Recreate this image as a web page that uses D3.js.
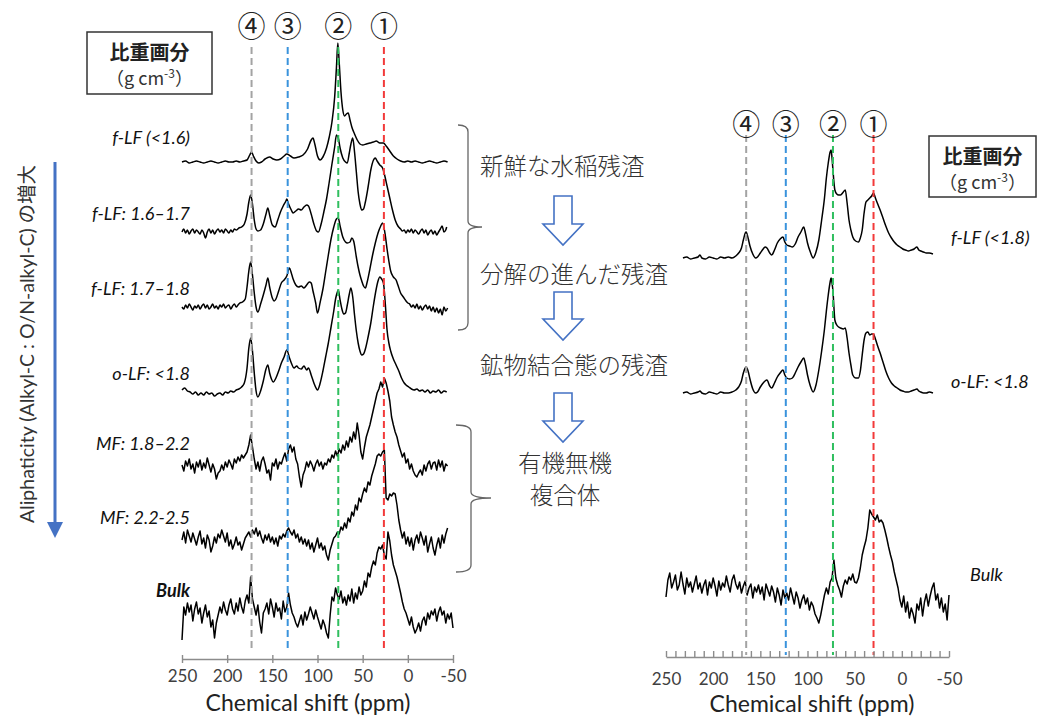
<!DOCTYPE html>
<html><head><meta charset="utf-8">
<script src="https://cdn.jsdelivr.net/npm/d3@7"></script>
<style>
body{margin:0;background:#fff;}
svg{display:block;}
text{font-family:Lato,'Noto Sans CJK JP',sans-serif;}
.jp{font-family:'Noto Sans CJK JP',sans-serif;}
</style></head><body>
<svg id="chart" width="1056" height="718"></svg>
<script>
// ---------- data ----------
// tick labels of the chemical-shift axes (ppm)
const tickValuesPpm = [250, 200, 150, 100, 50, 0, -50];
const tickLabels = ['250', '200', '150', '100', '50', '0', '-50'];

// assigned carbon regions (ppm): ① alkyl-C, ② O-alkyl-C, ③ aromatic-C, ④ carbonyl-C
const peakMarks = ['①', '②', '③', '④'];
const peakPpmLeft = [26.5, 77, 133, 173];
const peakPpmRight = [30, 73, 123, 165];

// left panel sample names (density fractions, g cm-3)
const leftSamples = ['f-LF (<1.6)', 'f-LF: 1.6–1.7', 'f-LF: 1.7–1.8', 'o-LF: <1.8', 'MF: 1.8–2.2', 'MF: 2.2-2.5', 'Bulk'];
const rightSamples = ['f-LF (<1.8)', 'o-LF: <1.8', 'Bulk'];

// 13C CPMAS spectra, [ppm, relative intensity]
const fLF16 = [[250,0],[246,1],[242,-1],[238,0],[234,1],[230,0],[226,-1],[222,0],[218,1],[214,0],[210,-1],[206,0],[202,1],[198,0],[194,0],[190,1],[186,0],[182,1],[178,2],[175,7],[173,10],[171,6],[168,1],[165,-1],[162,0],[158,3],[153,5],[149,3],[145,2],[141,3],[137,6],[134,8],[130,6],[126,4],[121,5],[116,7],[111,13],[107,22],[105,24],[103,18],[100,6],[97,2],[94,5],[90,14],[87,25],[84,40],[81,65],[79,95],[77.5,119],[76,100],[74,70],[72,52],[70,46],[68,48],[66,49],[64,42],[62,35],[59,28],[56,22],[53,18],[50,17],[46,18],[42,19],[38,20],[35,21],[31,19],[27,19],[24,16],[20,11],[16,6],[12,3],[8,1],[4,0],[0,1],[-4,0],[-8,1],[-12,0],[-16,-1],[-20,0],[-24,1],[-28,0],[-32,-1],[-36,0],[-40,1],[-44,0]];

const fLF1617 = [[250,0],[248,3],[246,-1],[244,2],[242,-2],[240,1],[238,3],[236,-1],[234,2],[232,0],[230,-2],[228,2],[226,-1],[224,-6],[222,0],[220,3],[218,-1],[216,2],[214,-2],[212,1],[210,3],[208,0],[206,2],[204,-1],[202,3],[200,1],[198,-1],[196,2],[194,0],[192,3],[190,2],[187,4],[184,5],[181,8],[178,18],[176,30],[174,37],[172,28],[170,12],[168,3],[166,1],[163,2],[160,8],[157,18],[155,24],[153,17],[150,7],[147,5],[144,12],[141,20],[138,26],[135,31],[134,33],[132,28],[129,22],[127,19],[124,21],[121,23],[118,22],[115,25],[112,27],[110,26],[107,18],[104,8],[101,1],[99,0],[96,8],[93,20],[90,33],[87,50],[84,68],[81,85],[79,97],[77,94],[75,84],[72,74],[69,70],[67,69],[65,78],[63,88],[61,94],[59,80],[57,60],[55,40],[53,28],[51,22],[49,23],[47,30],[44,45],[41,62],[38,72],[36,74],[34,71],[31,67],[28,64],[26,58],[23,46],[20,34],[17,22],[14,12],[11,6],[8,3],[6,1],[4,2],[2,-1],[0,2],[-2,0],[-4,3],[-6,-1],[-8,2],[-10,0],[-12,-2],[-14,1],[-16,3],[-18,-1],[-20,2],[-22,-3],[-24,0],[-26,2],[-28,-2],[-30,1],[-32,-3],[-34,0],[-36,3],[-38,6],[-40,0],[-42,2],[-43,5]];

const fLF1718 = [[250,0],[248,-2],[246,2],[244,-1],[242,3],[240,0],[238,-3],[236,1],[234,-1],[232,2],[230,-2],[228,1],[226,3],[224,-1],[222,2],[220,-2],[218,0],[216,3],[214,-1],[212,1],[210,-2],[208,2],[206,0],[204,3],[202,-1],[200,1],[198,2],[196,-2],[194,1],[192,3],[190,0],[188,2],[186,4],[183,5],[180,8],[178,20],[176,36],[174,45],[172,32],[170,14],[168,0],[166,-5],[163,3],[160,12],[157,22],[155,29],[153,20],[150,9],[148,6],[146,8],[143,16],[140,24],[137,27],[134,31],[131,39],[129,34],[127,28],[124,22],[121,20],[118,21],[115,19],[112,22],[109,25],[107,24],[105,16],[102,4],[100,-6],[97,5],[94,18],[91,35],[88,52],[85,68],[82,80],[79,88],[77,89],[75,81],[72,70],[69,65],[67,64],[64,65],[62,69],[60,66],[57,50],[55,40],[53,32],[51,26],[49,21],[47,19],[45,25],[42,38],[39,52],[36,64],[33,74],[30,81],[28,84],[25,72],[23,58],[21,46],[19,36],[16,30],[13,27],[11,22],[8,14],[5,10],[2,6],[0,4],[-2,3],[-4,0],[-6,2],[-8,-1],[-10,3],[-12,-2],[-14,1],[-16,-3],[-18,0],[-20,2],[-22,-2],[-24,1],[-26,-4],[-28,0],[-30,-5],[-32,-1],[-34,-6],[-36,-2],[-38,-8],[-40,0],[-42,-4],[-44,-1]];

const oLF18 = [[250,3],[247,5],[244,2],[241,1],[238,-1],[235,1],[232,-2],[229,0],[226,-2],[223,1],[220,-1],[217,0],[214,-3],[211,-1],[208,0],[205,-2],[202,1],[199,0],[196,2],[193,1],[190,3],[187,4],[184,6],[181,10],[178,25],[176,45],[174,55],[172,42],[170,20],[168,2],[166,-4],[163,2],[160,12],[157,24],[155,28],[153,20],[151,14],[149,11],[146,15],[143,22],[140,30],[137,36],[134,43],[131,35],[129,30],[126,25],[123,27],[121,25],[118,24],[115,27],[112,23],[110,25],[107,18],[104,10],[101,4],[100,3],[97,10],[94,22],[91,36],[88,50],[85,66],[82,82],[80,94],[78,101],[77,103],[75,93],[73,84],[71,79],[69,80],[67,88],[65,98],[63,105],[61,96],[59,78],[57,62],[55,50],[53,42],[51,38],[49,39],[47,44],[44,56],[41,70],[38,88],[35,104],[33,112],[31,116],[29,114],[27,110],[25,90],[23,63],[21,50],[19,42],[16,34],[14,30],[12,26],[10,22],[7,15],[4,10],[2,8],[-1,6],[-4,4],[-7,3],[-10,4],[-13,2],[-16,3],[-19,1],[-22,3],[-25,0],[-28,2],[-31,1],[-34,3],[-37,0],[-40,2],[-43,1]];

// noisy spectra sampled every 2 ppm from 250 ppm downwards
const ppmStep = 2;
const mf1822 = [2,-4,6,1,8,-2,3,-6,5,0, 7,-3,4,-1,9,2,-5,3,-2,-12, -6,-4,2,-3,5,0,7,3,-2,8, 4,10,6,12,9,12,15,22,32,20, 8,-2,5,-4,6,10,3,-6,-3,-13, 4,1,8,-2,5,3,9,14,6,18, 22,15,20,8,3,-10,-20,-8,-3,5, 0,6,2,-4,3,7,1,5,-2,4, 2,8,5,12,9,16,11,18,14,22, 17,26,20,30,25,35,28,44,32,15, 8,20,30,36,42,50,58,66,74,78, 85,80,89,84,76,66,50,42,35,30, 22,16,10,14,4,8,-2,3,-4,-8, -10,-6,-3,-8,2,-4,3,6,-2,4, 5,-3,7,0,6,-4,3,1];
const mf2225 = [0,8,-3,10,4,-2,7,1,-5,3, 9,-4,2,-8,5,0,-12,-6,3,-3, 6,2,10,4,-2,7,-6,0,-9,-4, 3,-5,-2,-10,-4,2,5,8,3,10, 6,12,4,9,2,-3,5,0,6,-2, 3,-4,2,-6,4,1,6,3,9,12, 8,5,10,2,6,-2,3,-4,1,-6, 0,-9,-3,-12,-5,2,-8,-3,-10,-6, -15,-20,-10,-4,2,4,8,6,13,10, 17,12,22,18,28,24,35,30,42,38, 46,52,48,58,55,64,70,76,84,86, 84,88,90,42,40,46,44,47,46,35, 20,10,2,8,-4,3,-6,2,-10,0, 5,-3,8,2,-5,4,-12,-4,3,-8, -15,-5,2,-8,5,-3,6,12];
const bulkL = [-23,10,2,14,5,12,-4,8,15,3, 9,-6,4,12,0,6,-10,-3,-21,-6, 2,10,4,15,7,2,12,18,8,3, 14,6,19,10,4,16,22,14,40,18, 10,2,12,-5,-16,4,8,14,3,18, 10,0,14,6,9,-2,16,5,10,24, 12,4,0,-6,-10,-4,2,-8,5,-3, 3,10,4,-2,7,0,-6,-12,-3,-8, -16,-21,2,20,16,29,22,18,26,14, 20,12,22,16,28,14,24,18,30,22, 26,36,30,44,40,50,56,52,64,70, 68,72,62,58,85,76,62,52,46,40, 32,24,15,8,4,-2,-8,0,-10,-16, -12,-6,-14,-4,0,-8,4,-2,6,2, 8,-4,5,10,2,6,-6,3,-2,4, -11];

const fLF18R = [[232,0],[228,1],[224,-1],[220,0],[216,1],[214,3],[212,0],[208,-1],[204,1],[200,0],[196,-1],[192,1],[188,0],[184,1],[180,0],[176,2],[173,5],[170,10],[168,18],[166,25],[165,26],[163,20],[161,12],[158,4],[155,0],[153,1],[150,5],[147,9],[145,11],[143,10],[140,5],[138,3],[135,8],[132,15],[129,19],[126,21],[124,16],[122,13],[119,12],[116,11],[113,14],[110,21],[107,26],[104,31],[102,24],[100,15],[97,6],[94,0],[91,6],[88,18],[85,38],[82,60],[80,80],[78,95],[76,106],[75,108],[74,100],[73,88],[72,76],[71,68],[69,64],[67,63],[65,63],[62,66],[60,68],[58,55],[56,38],[54,28],[52,21],[49,17],[46,16],[44,20],[42,28],[40,45],[38,56],[36,58],[34,60],[32,62],[30,65],[28,60],[26,55],[23,48],[20,40],[17,32],[14,25],[11,20],[8,16],[5,13],[2,11],[-1,9],[-4,8],[-7,7],[-10,8],[-13,9],[-16,11],[-18,8],[-20,7],[-23,6],[-26,5],[-29,5],[-33,4]];
const oLF18R = [[232,2],[228,3],[224,1],[220,2],[216,3],[214,4],[212,2],[208,1],[204,3],[200,2],[196,1],[192,3],[188,2],[184,2],[180,3],[176,5],[173,8],[170,14],[168,22],[166,27],[165,28],[163,24],[161,16],[158,6],[155,2],[153,3],[150,8],[147,12],[145,14],[143,15],[140,9],[138,7],[135,12],[132,18],[129,22],[126,25],[124,20],[122,17],[119,16],[116,17],[113,22],[110,28],[107,33],[104,37],[102,30],[100,20],[97,9],[94,3],[91,10],[88,25],[85,44],[82,66],[80,84],[78,100],[76,113],[75,117],[74,112],[73,104],[72,88],[71,75],[69,70],[67,68],[65,67],[62,66],[60,67],[58,57],[56,42],[54,30],[52,20],[49,17],[46,17],[44,24],[42,40],[40,55],[38,62],[36,63],[34,60],[32,61],[30,61],[28,56],[26,50],[23,42],[20,33],[17,24],[14,17],[11,12],[8,9],[5,7],[2,5],[-1,4],[-4,3],[-7,3],[-10,4],[-13,5],[-16,6],[-18,4],[-20,3],[-23,2],[-26,2],[-29,3],[-33,2]];
const bulkR = [-7,10,17,2,8,15,0,5,18,6, -4,12,3,8,-2,6,14,1,7,-3, 5,10,-5,8,2,12,4,-6,9,0, 7,3,14,5,-2,10,15,6,1,8, -3,4,9,-5,2,6,-8,3,-2,5, -4,3,-10,6,0,-6,4,-2,-12,2, -5,-15,0,-8,-3,-10,2,-6,-14,-2, -8,-18,-10,-5,-14,-8,-20,-12,-16,-24, -28,-33,-25,-15,-5,2,-4,8,12,30, 12,5,0,-7,4,10,6,13,10,16, 8,7,12,22,35,43,50,62,80,76, 73,70,75,68,70,67,60,52,43,35, 28,18,10,2,-10,-17,-6,-22,-12,-28, -18,-24,-33,-14,-20,-8,-26,-12,-4,-16, -6,2,7,-10,-4,-18,-8,-22,-14,-30, -5];

// ---------- drawing ----------
const sampled = vals => vals.map((v, i) => [250 - i * ppmStep, v]);
const svg = d3.select('#chart');
const markColors = ['#f23a3a', '#2fbf5f', '#3a93dc', '#a3a3a3'];

const xL = d3.scaleLinear().domain([250, -50]).range([182, 453]);
const xR = d3.scaleLinear().domain([250, -50]).range([666, 949]);
const yI = d3.scaleLinear().domain([0, 100]).range([0, -100]);

const leftSpectra = [
  {d: fLF16, smooth: true}, {d: fLF1617, smooth: true}, {d: fLF1718, smooth: true},
  {d: oLF18, smooth: true}, {d: sampled(mf1822)}, {d: sampled(mf2225)}, {d: sampled(bulkL)}
];
const leftBase = [162, 232, 307, 393, 467, 540, 617];
const leftLabelY = [144, 220, 295, 380, 450, 524, 597];

const rightSpectra = [{d: fLF18R, smooth: true}, {d: oLF18R, smooth: true}, {d: sampled(bulkR)}];
const rightBase = [258, 395, 590];
const rightLabelY = [244, 388, 581];

function drawSpectrum(g, s, x, base) {
  const line = d3.line().x(d => x(d[0])).y(d => base + yI(d[1]))
    .curve(s.smooth ? d3.curveMonotoneX : d3.curveLinear);
  g.append('path').attr('d', line(s.d)).attr('fill', 'none')
    .attr('stroke', '#000').attr('stroke-width', 1.5).attr('stroke-linejoin', 'round');
}

const gL = svg.append('g');
leftSpectra.forEach((s, i) => drawSpectrum(gL, s, xL, leftBase[i]));
const gR = svg.append('g');
rightSpectra.forEach((s, i) => drawSpectrum(gR, s, xR, rightBase[i]));

// dashed region markers with circled numbers
function drawMarks(x, ppms, y0, y1, yNum) {
  ppms.forEach((p, i) => {
    svg.append('line').attr('x1', x(p)).attr('x2', x(p)).attr('y1', y0).attr('y2', y1)
      .attr('stroke', markColors[i]).attr('stroke-width', 2).attr('stroke-dasharray', '7,4');
    svg.append('text').attr('class', 'jp').attr('x', x(p)).attr('y', yNum)
      .attr('text-anchor', 'middle').attr('dominant-baseline', 'central')
      .attr('font-size', 28).attr('fill', '#222').text(peakMarks[i]);
  });
}
drawMarks(xL, peakPpmLeft, 47, 649, 25);
drawMarks(xR, peakPpmRight, 135, 655, 123);

// axes
const axL = svg.append('g').attr('transform', 'translate(0,659)')
  .call(d3.axisBottom(xL).tickValues(tickValuesPpm).tickFormat((d, i) => tickLabels[i])
    .tickSizeInner(4).tickSizeOuter(0).tickPadding(7));
axL.selectAll('.tick line').attr('y1', -4);
const axR = svg.append('g').attr('transform', 'translate(0,657)')
  .call(d3.axisBottom(xR).tickValues(d3.range(250, -51, -10)).tickFormat('')
    .tickSizeInner(-6).tickSizeOuter(0));
const axR2 = svg.append('g').attr('transform', 'translate(0,657)')
  .call(d3.axisBottom(xR).tickValues(tickValuesPpm).tickFormat((d, i) => tickLabels[i])
    .tickSize(0).tickPadding(16));
axR2.select('.domain').remove();
[axL, axR, axR2].forEach(a => {
  a.selectAll('.domain, .tick line').attr('stroke', '#8c8c8c').attr('stroke-width', 1.4);
  a.selectAll('text').attr('font-size', 17).attr('fill', '#404040')
    .attr('font-family', 'Lato, sans-serif');
});
svg.append('text').attr('x', 308).attr('y', 711).attr('text-anchor', 'middle')
  .attr('font-size', 23).attr('fill', '#222').text('Chemical shift (ppm)');
svg.append('text').attr('x', 812).attr('y', 712).attr('text-anchor', 'middle')
  .attr('font-size', 23).attr('fill', '#222').text('Chemical shift (ppm)');

// sample labels
leftSamples.forEach((t, i) => {
  svg.append('text').attr('x', 190).attr('y', leftLabelY[i]).attr('text-anchor', 'end')
    .attr('font-size', 18).attr('font-style', 'italic')
    .attr('font-weight', t === 'Bulk' ? 'bold' : 'normal').attr('fill', '#111').text(t);
});
rightSamples.forEach((t, i) => {
  svg.append('text').attr('x', t === 'Bulk' ? 970 : 951).attr('y', rightLabelY[i])
    .attr('font-size', 18).attr('font-style', 'italic').attr('fill', '#111').text(t);
});

// density-fraction boxes
function densityBox(x, y, w, h) {
  svg.append('rect').attr('x', x).attr('y', y).attr('width', w).attr('height', h)
    .attr('fill', '#fff').attr('stroke', '#333').attr('stroke-width', 1.5);
  const cx = x + w / 2;
  svg.append('text').attr('class', 'jp').attr('x', cx).attr('y', y + 28)
    .attr('text-anchor', 'middle').attr('font-size', 20).attr('font-weight', 'bold')
    .attr('fill', '#222').text('比重画分');
  const t = svg.append('text').attr('class', 'jp').attr('x', cx).attr('y', y + 53)
    .attr('text-anchor', 'middle').attr('font-size', 18).attr('fill', '#333');
  t.append('tspan').text('（g cm');
  t.append('tspan').attr('font-size', 12).attr('dy', -7).text('-3');
  t.append('tspan').attr('dy', 7).text('）');
}
densityBox(87, 32, 125, 62);
densityBox(929, 136, 107, 61);

// aliphaticity arrow and label
svg.append('line').attr('x1', 55).attr('x2', 55).attr('y1', 162).attr('y2', 524)
  .attr('stroke', '#4472c4').attr('stroke-width', 3);
svg.append('path').attr('d', 'M47,522 L63,522 L55,538 Z').attr('fill', '#4472c4');
svg.append('text').attr('transform', 'translate(34,344) rotate(-90)')
  .attr('text-anchor', 'middle').attr('font-size', 19.5).attr('fill', '#333')
  .text('Aliphaticity (Alkyl-C : O/N-alkyl-C) の増大');

// braces
function brace(x0, xv, xt, y0, ym, y1) {
  return `M${x0},${y0} Q${xv},${y0} ${xv},${y0 + 7} L${xv},${ym - 6} Q${xv},${ym} ${xt},${ym}` +
         ` Q${xv},${ym} ${xv},${ym + 6} L${xv},${y1 - 7} Q${xv},${y1} ${x0},${y1}`;
}
svg.append('path').attr('d', brace(458, 468, 482, 125, 227, 330))
  .attr('fill', 'none').attr('stroke', '#666').attr('stroke-width', 1.3);
svg.append('path').attr('d', brace(456, 471, 491, 425, 498, 572))
  .attr('fill', 'none').attr('stroke', '#666').attr('stroke-width', 1.3);

// decomposition pathway
const stageText = [
  {t: '新鮮な水稲残渣', x: 480, y: 165, a: 'start'},
  {t: '分解の進んだ残渣', x: 480, y: 273, a: 'start'},
  {t: '鉱物結合態の残渣', x: 480, y: 364, a: 'start'},
  {t: '有機無機', x: 565, y: 462, a: 'middle'},
  {t: '複合体', x: 565, y: 494, a: 'middle'}
];
stageText.forEach(s => svg.append('text').attr('class', 'jp').attr('x', s.x).attr('y', s.y)
  .attr('text-anchor', s.a).attr('dominant-baseline', 'central').attr('font-size', 23.5)
  .attr('font-weight', 300).attr('fill', '#333').text(s.t));
function hollowArrow(c, top, head, tip) {
  const p = [[c - 9, top], [c + 9, top], [c + 9, head], [c + 20, head], [c, tip],
             [c - 20, head], [c - 9, head]];
  svg.append('path').attr('d', 'M' + p.map(q => q.join(',')).join('L') + 'Z')
    .attr('fill', '#fff').attr('stroke', '#4472c4').attr('stroke-width', 1.6)
    .attr('stroke-linejoin', 'miter');
}
hollowArrow(563, 196, 224, 245);
hollowArrow(563, 292, 319, 340);
hollowArrow(563, 393, 421, 442);
</script>
</body></html>
